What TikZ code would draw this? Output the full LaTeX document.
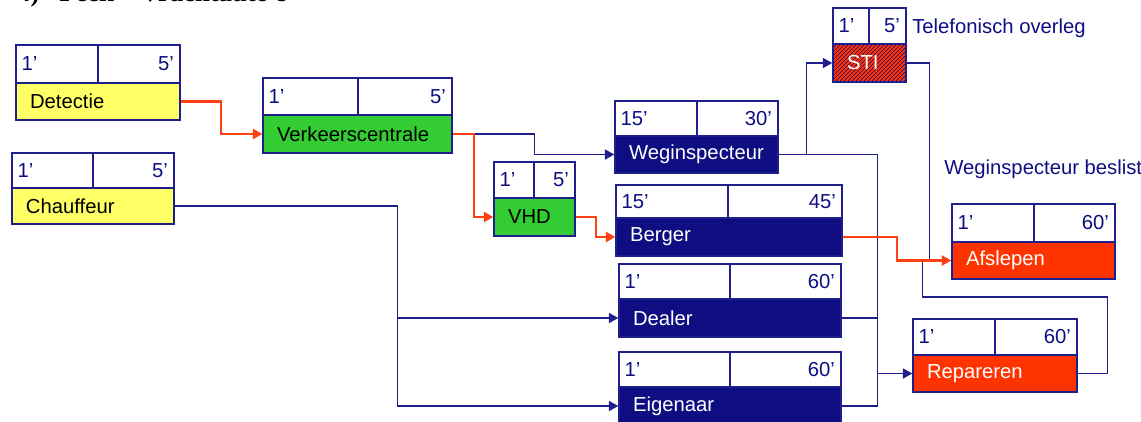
\documentclass[tikz,border=0pt]{standalone}
\usepackage{fontspec}
\setmainfont{Liberation Sans}
\newfontfamily\ttlfont{Liberation Serif}
\usetikzlibrary{arrows.meta,patterns}
\definecolor{navc}{RGB}{14,14,130}
\definecolor{linec}{RGB}{30,30,140}
\definecolor{redc}{RGB}{255,51,0}
\definecolor{redl}{RGB}{255,64,16}
\definecolor{yelc}{RGB}{255,255,102}
\definecolor{grnc}{RGB}{51,204,51}
\tikzset{
  cell/.style={draw=linec, line width=1.1pt, fill=white, inner sep=0pt},
  num/.style={text=navc, inner sep=0pt, font=\fontsize{15.2}{18}\selectfont},
  body/.style={draw=linec, line width=1.1pt, inner ysep=0pt, inner xsep=10.5pt, align=left, font=\fontsize{15.2}{18}\selectfont},
  yel/.style={fill=yelc, text=black},
  grn/.style={fill=grnc, text=black},
  nav/.style={fill=navc, text=white},
  redbox/.style={fill=redc, text=white},
  hatch/.style={preaction={fill=redc}, pattern=north east lines, pattern color=navc, text=white},
  blueline/.style={draw=linec, line width=1.1pt},
  redline/.style={draw=redl, line width=1.6pt},
  arr/.style={-{Triangle[length=7pt,width=7.5pt]}},
  note/.style={text=navc, inner sep=0pt, font=\fontsize{15.2}{18}\selectfont},
}
\newcommand\cellpair[8]{%
  \node[cell, minimum width={(#4-#2)*0.75pt}, minimum height={(#6-#3)*0.75pt}] (#1a) at ({(#2+#4)/2},{(#3+#6)/2}) {};
  \node[cell, minimum width={(#5-#4)*0.75pt}, minimum height={(#6-#3)*0.75pt}] (#1b) at ({(#4+#5)/2},{(#3+#6)/2}) {};
  \node[num, anchor=west] (#1l) at ([xshift=4.5pt]#1a.west) {#7};
  \node[num, anchor=east] (#1r) at ([xshift=-5pt]#1b.east) {#8};
}
\newcommand\bodybox[7]{%
  \node[body, #2, minimum width={(#5-#3)*0.75pt}, minimum height={(#6-#4)*0.75pt}, text width={(#5-#3)*0.75pt-21pt}] (#1) at ({(#3+#5)/2},{(#4+#6)/2}) {#7};
}
\begin{document}
\begin{tikzpicture}[x=0.75pt,y=-0.75pt]
\useasboundingbox (0,0) rectangle (1141,421);
\clip (0,0) rectangle (1141,421);
% title (mostly cut off at the top)
\node[anchor=base west, inner sep=0pt, font=\ttlfont\bfseries\fontsize{20}{24}\selectfont] (t1) at (17,1.5) {4)};
\node[anchor=base west, inner sep=0pt, font=\ttlfont\bfseries\fontsize{20}{24}\selectfont] (t2) at (59,1.5) {Peek – Vrachtauto’s};
% boxes
\cellpair{det}{16}{45}{98}{180}{83}{1’}{5’}
\bodybox{det}{yel}{16}{83}{180}{120}{Detectie}
\cellpair{chf}{12}{153}{93}{174}{188}{1’}{5’}
\bodybox{chf}{yel}{12}{188}{174}{224}{Chauffeur}
\cellpair{vkc}{263}{78}{358}{452}{115}{1’}{5’}
\bodybox{vkc}{grn}{263}{115}{452}{153}{Verkeerscentrale}
\cellpair{vhd}{494}{162}{534}{575}{198}{1’}{5’}
\bodybox{vhd}{grn}{494}{198}{575}{236}{VHD}
\cellpair{wi}{615}{101}{697}{778}{136}{15’}{30’}
\bodybox{wi}{nav}{615}{136}{778}{173}{Weginspecteur}
\cellpair{sti}{833}{8}{869}{906}{44}{1’}{5’}
\bodybox{sti}{hatch}{833}{44}{906}{82}{STI}
\cellpair{bg}{616}{185}{728}{842}{218}{15’}{45’}
\bodybox{bg}{nav}{616}{218}{842}{256}{Berger}
\cellpair{dl}{619}{264}{730}{841}{299}{1’}{60’}
\bodybox{dl}{nav}{619}{299}{841}{337}{Dealer}
\cellpair{eg}{619}{352}{730}{841}{387}{1’}{60’}
\bodybox{eg}{nav}{619}{387}{841}{425}{Eigenaar}
\cellpair{af}{952}{204}{1034}{1115}{242}{1’}{60’}
\bodybox{af}{redbox}{952}{242}{1115}{279}{Afslepen}
\cellpair{rp}{913}{319}{995}{1077}{355}{1’}{60’}
\bodybox{rp}{redbox}{913}{355}{1077}{392}{Repareren}
% notes
\node[note, anchor=west] (tel) at (912,28) {Telefonisch overleg};
\node[note, anchor=west] (besl) at (944,169) {Weginspecteur beslist};
% blue connectors
\draw[blueline, arr] (vkc.east) -- ++(82,0) |- (wi.west);
\draw[blueline, arr] (wi.east) -- ++(28,0) |- (sti.west);
\draw[blueline, arr] (wi.east) -- ++(99,0) |- (rp.west);
\draw[blueline] (dl.east) -- ++(36,0) |- (rp.west);
\draw[blueline] (eg.east) -- ++(36,0) |- (rp.west);
\draw[blueline, arr] (chf.east) -- ++(223,0) |- (dl.west);
\draw[blueline, arr] (chf.east) -- ++(223,0) |- (eg.west);
\draw[blueline] (sti.east) -- ++(23,0) |- (af.west);
\draw[blueline] (rp.east) -- ++(30,0) -- ++(0,-76.5) -- ++(-185,0) |- (af.west);
% red connectors
\draw[redline, arr] (det.east) -- ++(40,0) |- (vkc.west);
\draw[redline, arr] (vkc.east) -- ++(21,0) |- (vhd.west);
\draw[redline, arr] (vhd.east) -- ++(20,0) |- (bg.west);
\draw[redline, arr] (bg.east) -- ++(54,0) |- (af.west);
\end{tikzpicture}
\end{document}
